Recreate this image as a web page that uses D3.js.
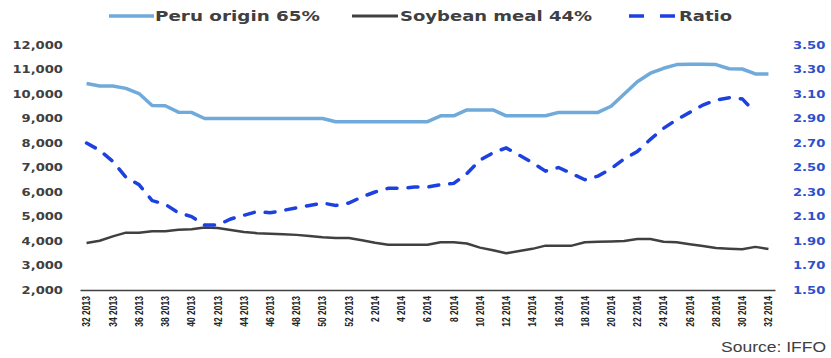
<!DOCTYPE html>
<html>
<head>
<meta charset="utf-8">
<script src="https://cdn.jsdelivr.net/npm/d3@7"></script>
<style>
    body { margin: 0; background: #fff; }
    svg { display: block; }
</style>
</head>
<body>
<svg id="chart" width="831" height="358"></svg>
<script>
// weekly prices, week 32 2013 -> week 32 2014
const weeks = [
    "32 2013", "33 2013", "34 2013", "35 2013", "36 2013", "37 2013", "38 2013", "39 2013",
    "40 2013", "41 2013", "42 2013", "43 2013", "44 2013", "45 2013", "46 2013", "47 2013",
    "48 2013", "49 2013", "50 2013", "51 2013", "52 2013",
    "1 2014", "2 2014", "3 2014", "4 2014", "5 2014", "6 2014", "7 2014", "8 2014",
    "9 2014", "10 2014", "11 2014", "12 2014", "13 2014", "14 2014", "15 2014", "16 2014",
    "17 2014", "18 2014", "19 2014", "20 2014", "21 2014", "22 2014", "23 2014", "24 2014",
    "25 2014", "26 2014", "27 2014", "28 2014", "29 2014", "30 2014", "31 2014", "32 2014"
];

const peru = [
    10430, 10330, 10330, 10230, 10020, 9530, 9520, 9260, 9250, 9000,
    9000, 9000, 9000, 9000, 9000, 9000, 9000, 9000, 9000, 8870,
    8870, 8870, 8870, 8870, 8870, 8870, 8870, 9110, 9110, 9350,
    9350, 9350, 9110, 9110, 9110, 9110, 9250, 9250, 9250, 9250,
    9500, 10000, 10500, 10850, 11050, 11200, 11210, 11210, 11200, 11030,
    11020, 10820, 10820
];

const soybean = [
    3920, 4010, 4190, 4340, 4340, 4400, 4400, 4460, 4480, 4550,
    4530, 4450, 4370, 4320, 4300, 4280, 4250, 4200, 4150, 4120,
    4120, 4030, 3930, 3850, 3850, 3850, 3850, 3950, 3950, 3900,
    3730, 3620, 3500, 3590, 3680, 3810, 3810, 3810, 3950, 3970,
    3980, 4000, 4080, 4080, 3970, 3950, 3870, 3800, 3710, 3680,
    3660, 3760, 3670
];

// ratio stops one week early in the source
const ratio = [
    2.70, 2.64, 2.55, 2.42, 2.36, 2.23, 2.20, 2.13, 2.10, 2.03,
    2.03, 2.08, 2.11, 2.14, 2.13, 2.15, 2.17, 2.19, 2.21, 2.19,
    2.21, 2.26, 2.30, 2.33, 2.33, 2.34, 2.34, 2.36, 2.37, 2.45,
    2.56, 2.62, 2.66, 2.60, 2.54, 2.47, 2.50, 2.45, 2.40, 2.43,
    2.49, 2.57, 2.63, 2.73, 2.82, 2.89, 2.95, 3.01, 3.05, 3.07,
    3.06, 2.95
];

const leftTicks = [2000, 3000, 4000, 5000, 6000, 7000, 8000, 9000, 10000, 11000, 12000];
const rightTicks = [1.5, 1.7, 1.9, 2.1, 2.3, 2.5, 2.7, 2.9, 3.1, 3.3, 3.5];

const PERU_COLOR = "#70aadb";
const SOY_COLOR = "#404040";
const RATIO_COLOR = "#1d40e0";
const RIGHT_LABEL = "#2e50cc";
const FONT = "'DejaVu Sans', Verdana, sans-serif";

const svg = d3.select("#chart");
const plotLeft = 80, plotRight = 775, plotTop = 45, plotBottom = 290;

const x = d3.scaleBand().domain(weeks).range([plotLeft, plotRight]);
const cx = (d) => x(d) + x.bandwidth() / 2;
const yL = d3.scaleLinear().domain([2000, 12000]).range([plotBottom, plotTop]);
const yR = d3.scaleLinear().domain([1.5, 3.5]).range([plotBottom, plotTop]);

// the source picture is stretched sideways, so text gets a horizontal scale
function stretchedText(g, px, py, str, anchor) {
    return g.append("text")
        .attr("transform", `translate(${px},${py}) scale(1.25,1)`)
        .attr("text-anchor", anchor)
        .attr("dy", "0.36em")
        .text(str);
}

// left axis labels
const gL = svg.append("g")
    .attr("font-family", FONT).attr("font-weight", "bold")
    .attr("font-size", 10.5).attr("fill", "#404040");
leftTicks.forEach((t) => stretchedText(gL, 63, yL(t), d3.format(",")(t), "end"));

// right axis labels
const gR = svg.append("g")
    .attr("font-family", FONT).attr("font-weight", "bold")
    .attr("font-size", 10.5).attr("fill", RIGHT_LABEL);
rightTicks.forEach((t) => stretchedText(gR, 793, yR(t), t.toFixed(2), "start"));

// x axis: baseline + every other week label
const xAxis = d3.axisBottom(x)
    .tickValues(weeks.filter((d, i) => i % 2 === 0))
    .tickSize(0)
    .tickPadding(0);
const gX = svg.append("g")
    .attr("transform", `translate(0,${plotBottom})`)
    .call(xAxis);
gX.select(".domain").attr("stroke", "#404040").attr("stroke-width", 1.5);
gX.selectAll(".tick text")
    .attr("font-family", "'Liberation Sans', Arial, sans-serif")
    .attr("font-weight", "bold")
    .attr("font-size", 8.5)
    .attr("fill", "#222")
    .attr("text-anchor", "end")
    .attr("y", null)
    .attr("dy", "0.35em")
    .attr("transform", "translate(0,6) rotate(-90) scale(1,1.3)");

// lines
const lineL = d3.line().x((d, i) => cx(weeks[i])).y((d) => yL(d));
const lineR = d3.line().x((d, i) => cx(weeks[i])).y((d) => yR(d));

svg.append("path")
    .attr("d", lineL(peru))
    .attr("fill", "none").attr("stroke", PERU_COLOR)
    .attr("stroke-width", 3.5).attr("stroke-linejoin", "round");

svg.append("path")
    .attr("d", lineL(soybean))
    .attr("fill", "none").attr("stroke", SOY_COLOR)
    .attr("stroke-width", 2.5).attr("stroke-linejoin", "round");

svg.append("path")
    .attr("d", lineR(ratio))
    .attr("fill", "none").attr("stroke", RATIO_COLOR)
    .attr("stroke-width", 3.5).attr("stroke-linecap", "round")
    .attr("stroke-dasharray", "10,11");

// legend
const legend = svg.append("g")
    .attr("font-family", FONT).attr("font-weight", "bold")
    .attr("font-size", 14.5).attr("fill", "#404040");
const items = [
    { label: "Peru origin 65%", color: PERU_COLOR, x0: 109, x1: 154, tx: 155, tw: 165, dash: null, w: 3.5 },
    { label: "Soybean meal 44%", color: SOY_COLOR, x0: 352, x1: 398, tx: 400, tw: 192, dash: null, w: 3 },
    { label: "Ratio", color: RATIO_COLOR, x0: 629, x1: 676, tx: 679, tw: 53, dash: "15,16", w: 3.5 }
];
items.forEach((it) => {
    legend.append("line")
        .attr("x1", it.x0).attr("x2", it.x1).attr("y1", 16).attr("y2", 16)
        .attr("stroke", it.color).attr("stroke-width", it.w)
        .attr("stroke-dasharray", it.dash);
    legend.append("text")
        .attr("x", it.tx).attr("y", 16).attr("dy", "0.36em")
        .attr("textLength", it.tw).attr("lengthAdjust", "spacingAndGlyphs")
        .text(it.label);
});

// source note
svg.append("text")
    .attr("transform", "translate(826,347) scale(1.25,1)")
    .attr("text-anchor", "end").attr("dy", "0.36em")
    .attr("font-family", "'Liberation Sans', Arial, sans-serif")
    .attr("font-size", 14).attr("fill", "#404040")
    .text("Source: IFFO");
</script>
</body>
</html>
